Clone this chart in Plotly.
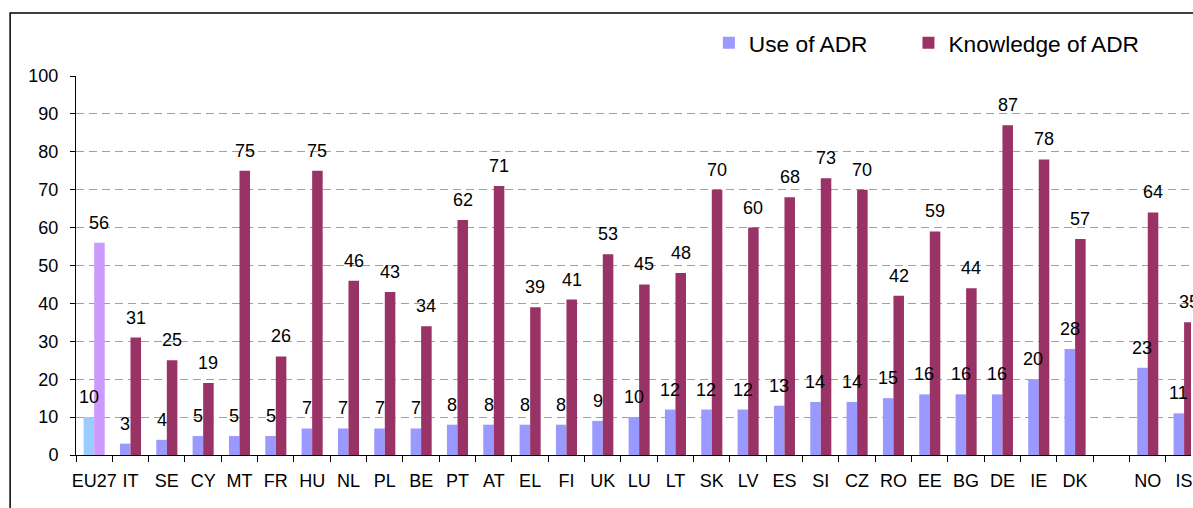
import plotly.graph_objects as go

# Countries in display order; the blank slot separates EU members from NO / IS
countries = ["EU27", "IT", "SE", "CY", "MT", "FR", "HU", "NL", "PL", "BE", "PT", "AT",
             "EL", "FI", "UK", "LU", "LT", "SK", "LV", "ES", "SI", "CZ", "RO", "EE",
             "BG", "DE", "IE", "DK", " ", "NO", "IS"]
use_adr = [10, 3, 4, 5, 5, 5, 7, 7, 7, 7, 8, 8, 8, 8, 9, 10, 12, 12, 12, 13, 14, 14,
           15, 16, 16, 16, 20, 28, None, 23, 11]
knowledge_adr = [56, 31, 25, 19, 75, 26, 75, 46, 43, 34, 62, 71, 39, 41, 53, 45, 48, 70,
                 60, 68, 73, 70, 42, 59, 44, 87, 78, 57, None, 64, 35]
y_ticks = [0, 10, 20, 30, 40, 50, 60, 70, 80, 90, 100]

FONT = "Liberation Sans, Arial, sans-serif"
USE_COL, USE_EU = "#9999FF", "#99CCFF"
KNOW_COL, KNOW_EU = "#993366", "#CC99FF"

use_colors = [USE_EU if c == "EU27" else USE_COL for c in countries]
know_colors = [KNOW_EU if c == "EU27" else KNOW_COL for c in countries]

fig = go.Figure()
fig.add_trace(go.Bar(x=countries, y=use_adr, name="Use of ADR", offsetgroup="u",
                     showlegend=False,
                     marker=dict(color=use_colors, line=dict(width=0))))
fig.add_trace(go.Bar(x=countries, y=knowledge_adr, name="Knowledge of ADR",
                     offsetgroup="k", showlegend=False,
                     marker=dict(color=know_colors, line=dict(width=0))))
# legend entries in the plain series colours, each in its own legend box
fig.add_trace(go.Bar(x=[countries[1]], y=[None], name="Use of ADR", offsetgroup="u",
                     marker=dict(color=USE_COL, line=dict(width=0)), legend="legend"))
fig.add_trace(go.Bar(x=[countries[1]], y=[None], name="Knowledge of ADR",
                     offsetgroup="k", marker=dict(color=KNOW_COL, line=dict(width=0)),
                     legend="legend2"))

# value labels above each bar
annotations = []
for shift, series in ((-5.3, use_adr), (5.3, knowledge_adr)):
    for c, v in zip(countries, series):
        if v is None:
            continue
        annotations.append(dict(x=c, y=v, xref="x", yref="y", text=str(v),
                                showarrow=False, xshift=shift, yshift=20,
                                yanchor="middle", xanchor="center",
                                font=dict(family=FONT, size=18, color="black")))

legend_style = dict(orientation="h", xanchor="left", y=1.087, yanchor="middle",
                    font=dict(family=FONT, size=22.7, color="black"),
                    bgcolor="rgba(0,0,0,0)")

fig.update_layout(
    width=1193, height=508,
    margin=dict(l=76, r=0, t=76, b=53),
    paper_bgcolor="white", plot_bgcolor="white",
    barmode="group", bargap=0.42, bargroupgap=0,
    font=dict(family=FONT, size=18, color="black"),
    showlegend=True,
    legend=dict(x=0.5676, **legend_style),
    legend2=dict(x=0.7466, **legend_style),
    annotations=annotations,
    shapes=[dict(type="rect", xref="paper", yref="paper",
                 x0=-0.0591, x1=1.2, y0=-0.3, y1=1.1662,
                 line=dict(color="black", width=1.5), fillcolor="rgba(0,0,0,0)",
                 layer="below")],
)

fig.update_xaxes(type="category", categoryorder="array", categoryarray=countries,
                 range=[-0.5, 30.19], showline=True, linecolor="black", linewidth=1,
                 ticks="outside", tickson="boundaries", ticklen=6, tickcolor="black",
                 tickangle=0, ticklabelstandoff=9,
                 tickfont=dict(family=FONT, size=18, color="black"), showgrid=False)
fig.update_yaxes(range=[0, 100], tickvals=y_ticks, showline=True, linecolor="black",
                 linewidth=1, ticks="outside", ticklen=5, tickcolor="black",
                 tickfont=dict(family=FONT, size=18, color="black"),
                 ticklabelstandoff=8,
                 showgrid=True, gridcolor="#A0A0A0", gridwidth=1, griddash="8px,5px",
                 zeroline=False)

fig.write_html("out.html")
